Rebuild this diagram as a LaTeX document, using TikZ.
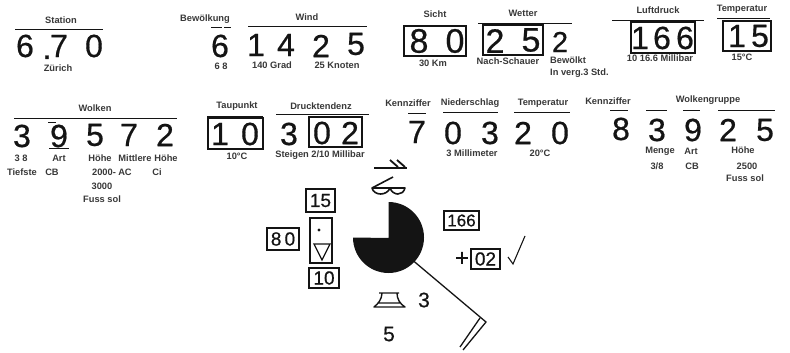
\documentclass[tikz,border=0pt]{standalone}
\usepackage{fontspec}
\setmainfont{Liberation Sans}
\newfontfamily\dgfont[FakeBold=0.6]{Liberation Sans}
\definecolor{ink}{gray}{0.08}
\tikzset{
  dg/.style={font=\dgfont\fontsize{32}{32}\selectfont,text=ink,inner sep=0pt},
  dgb/.style={font=\dgfont\fontsize{34}{34}\selectfont,text=ink,inner sep=0pt},
  dgs/.style={font=\dgfont\fontsize{19}{19}\selectfont,text=ink,inner sep=0pt},
  dgm/.style={font=\dgfont\fontsize{21}{21}\selectfont,text=ink,inner sep=0pt},
  lab/.style={font=\fontsize{9.3}{10}\selectfont\bfseries,text=ink!85,inner sep=0pt},
  rule/.style={draw=ink,line width=1pt},
  bx/.style={draw=ink,line width=1.7pt},
  sbx/.style={draw=ink,line width=1.3pt},
  sym/.style={draw=ink,line width=1.3pt},
  nbox/.style={draw=ink,line width=1.3pt,inner sep=0pt,dgs},
}
\begin{document}
\begin{tikzpicture}[x=1pt,y=-1pt]
\useasboundingbox (0,0) rectangle (790,353);
% ---- row 1
\node[lab] (t1) at (61,20) {Station};
\draw[rule] (15,30) -- (103,30);
\node[dg] (a1) at (25,46) {6};
\node[dg,anchor=base] (a2) at (47,59) {.};
\node[dg] (a3) at (59,46) {7};
\node[dg] (a4) at (94,46) {0};
\node[lab] (l1) at (58,68) {Zürich};
\node[lab] (t2) at (205,19) {Bewölkung};
\draw[rule] (211,28) -- (222,28) (224,28) -- (231,28);
\node[dg] (b1) at (220,46) {6};
\node[lab] (l2) at (221,66) {6 8};
\node[lab] (t3) at (307,17) {Wind};
\draw[rule] (248,27) -- (367,27);
\node[dg] (c1) at (256,45) {1};
\node[dg] (c2) at (286,45) {4};
\node[dg] (c3) at (321,46) {2};
\node[dg] (c4) at (356,44) {5};
\node[lab] (l3) at (272,65) {140 Grad};
\node[lab] (l4) at (337,65) {25 Knoten};
\node[lab] (t4) at (435,14) {Sicht};
\draw[bx] (404,26) rectangle (466,56);
\node[dgb] (d1) at (419,41) {8};
\node[dgb] (d2) at (455,41) {0};
\node[lab] (l5) at (433,63) {30 Km};
\node[lab] (t5) at (523,13) {Wetter};
\draw[rule] (478,24) -- (572,24);
\draw[bx] (483,25) rectangle (543,55);
\node[dgb] (e1) at (495,41) {2};
\node[dgb] (e2) at (531,40) {5};
\node[font=\dgfont\fontsize{29}{29}\selectfont,text=ink,inner sep=0pt] (e3) at (560,42) {2};
\node[lab] (l6) at (508,61) {Nach-Schauer};
\node[lab,anchor=west] (l7) at (550,60) {Bewölkt};
\node[lab,anchor=west] (l8) at (550,73) {In verg.3 Std.};
\node[lab] (t6) at (658,10) {Luftdruck};
\draw[rule] (612,21) -- (704,21);
\draw[bx] (631,22) rectangle (695,53);
\node[dg] (f1) at (640,38) {1};
\node[dg] (f2) at (662,38) {6};
\node[dg] (f3) at (685,38) {6};
\node[lab] (l9) at (660,58) {10 16.6 Millibar};
\node[lab] (t7) at (742,9) {Temperatur};
\draw[rule] (717,19) -- (770,19);
\draw[bx] (723,21) rectangle (771,51);
\node[dg] (g1) at (737,36) {1};
\node[dg] (g2) at (760,36) {5};
\node[lab] (l10) at (742,57) {15°C};
% ---- row 2
\node[lab] (t8) at (95,108) {Wolken};
\draw[rule] (14,118) -- (177,118);
\node[dg] (h1) at (22,136) {3};
\node[dg] (h2) at (59,136) {9};
\node[dg] (h3) at (95,135) {5};
\node[dg] (h4) at (129,135) {7};
\node[dg] (h5) at (165,135) {2};
\draw[ink,line width=.7pt] (49,148) -- (69,148) (48,122) -- (56,122);
\node[lab] (m1) at (21,158) {3 8};
\node[lab] (m2) at (59,158) {Art};
\node[lab] (m3) at (100,158) {Höhe};
\node[lab] (m4) at (135,158) {Mittlere};
\node[lab] (m5) at (166,158) {Höhe};
\node[lab] (m6) at (22,172) {Tiefste};
\node[lab] (m7) at (52,172) {CB};
\node[lab] (m8) at (104,172) {2000-};
\node[lab] (m9) at (125,172) {AC};
\node[lab] (m10) at (157,172) {Ci};
\node[lab] (m11) at (102,186) {3000};
\node[lab] (m12) at (102,199) {Fuss sol};
\node[lab] (t9) at (237,106) {Taupunkt};
\draw[rule] (207,116) -- (263,116);
\draw[bx] (208,118) rectangle (263,149);
\node[dg] (i1) at (220,134) {1};
\node[dg] (i2) at (250,134) {0};
\node[lab] (m13) at (237,156) {10°C};
\node[lab] (t10) at (321,106) {Drucktendenz};
\draw[rule] (276,114) -- (369,114);
\draw[bx] (309,117) rectangle (362,147);
\node[dg] (j1) at (289,134) {3};
\node[dg] (j2) at (322,133) {0};
\node[dg] (j3) at (350,133) {2};
\node[lab] (m14) at (320,155) {Steigen 2/10 Millibar};
\node[lab] (t11) at (408,103) {Kennziffer};
\draw[rule] (408,113) -- (426,113);
\node[dg] (k1) at (417,132) {7};
\node[lab] (t12) at (470,103) {Niederschlag};
\draw[rule] (443,112) -- (498,112);
\node[dg] (n1) at (453,133) {0};
\node[dg] (n2) at (490,133) {3};
\node[lab] (m15) at (472,153) {3 Millimeter};
\node[lab] (t13) at (543,103) {Temperatur};
\draw[rule] (514,112) -- (570,112);
\node[dg] (o1) at (523,133) {2};
\node[dg] (o2) at (560,133) {0};
\node[lab] (m16) at (540,153) {20°C};
\node[lab] (t14) at (608,101) {Kennziffer};
\draw[rule] (610,110) -- (628,110);
\node[dg] (p1) at (621,129) {8};
\node[lab] (t15) at (708,100) {Wolkengruppe};
\draw[rule] (646,110) -- (667,110) (683,110) -- (700,110) (718,110) -- (775,110);
\node[dg] (q1) at (657,130) {3};
\node[dg] (q2) at (693,130) {9};
\node[dg] (q3) at (728,130) {2};
\node[dg] (q4) at (765,130) {5};
\node[lab] (m17) at (660,151) {Menge};
\node[lab] (m18) at (691,151) {Art};
\node[lab] (m19) at (743,150) {Höhe};
\node[lab] (m20) at (657,166) {3/8};
\node[lab] (m21) at (692,166) {CB};
\node[lab] (m22) at (747,166) {2500};
\node[lab] (m23) at (745,178) {Fuss sol};
% ---- station symbol
\draw[sym] (374,168) -- (407,168);
\draw[ink,line width=1.8pt] (390,160) -- (398,167) (397,160) -- (405,167);
\draw[ink,line width=1.6pt,line join=round]
  (393,177) -- (372,188)
  .. controls (374,196) and (387,196) .. (390,188)
  .. controls (393,196) and (403,196) .. (405,188)
  -- (372,188);
\coordinate (pc) at (388.5,238);
\fill[ink] (pc) -- (388.5,202) arc[start angle=90,end angle=-180,x radius=35.5,y radius=-35.5] -- cycle;
\coordinate (ws) at (410,258);
\coordinate (we) at (486,322);
\coordinate (b1e) at (463,350);
\coordinate (b2s) at (480,318);
\coordinate (b2e) at (460,347);
\draw[ink,line width=1.3pt,line join=miter] (ws) -- (we) -- (b1e);
\draw[ink,line width=1.3pt] (b2s) -- (b2e);
\node[nbox,minimum width=29pt,minimum height=23pt] (s15) at (320.5,200.5) {15};
\draw[sbx] (310,218) rectangle (332,263);
\fill[ink] (319,230) circle (1.7pt);
\draw[sym] (314,244) -- (330,244) -- (322,260) -- cycle;
\node[nbox,minimum width=30pt,minimum height=20pt] (s10) at (324,278) {10};
\node[nbox,minimum width=32pt,minimum height=22pt] (s80) at (283,239) {8\,0};
\node[nbox,line width=1.6pt,font=\dgfont\fontsize{17}{17}\selectfont,minimum width=35pt,minimum height=19pt] (s166) at (461.5,220.5) {166};
\node[font=\dgfont\fontsize{24}{24}\selectfont,text=ink,inner sep=0pt] (plus) at (462,259) {+};
\node[nbox,minimum width=29pt,minimum height=20pt] (s02) at (485.5,259) {02};
\draw[ink,line width=1.1pt] (508,257) -- (513,264) -- (525,236);
\draw[ink,line width=1.4pt,line join=round]
  (379,293) -- (399,293)
  (382,293) .. controls (382,299) and (378,304) .. (374,307)
  -- (405,307) .. controls (400,304) and (397,299) .. (397,293)
  (378,303) -- (401,303);
\node[dgm] (s3) at (424,300) {3};
\node[dgm] (s5) at (389,334) {5};
\end{tikzpicture}
\end{document}
